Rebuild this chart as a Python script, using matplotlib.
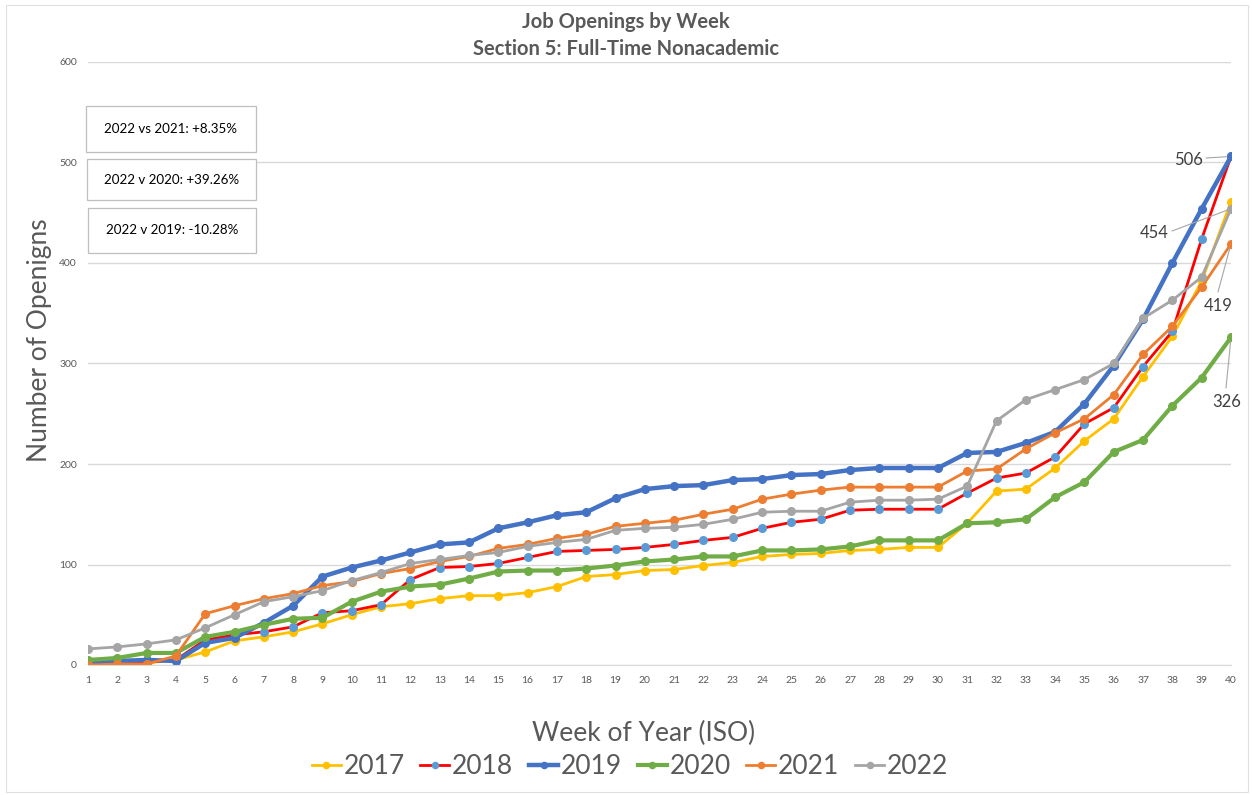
import numpy as np
import matplotlib
matplotlib.use("Agg")
import matplotlib.pyplot as plt
from matplotlib.patches import Rectangle

plt.rcParams["font.family"] = ["Lato", "DejaVu Sans"]

# ── Data ──────────────────────────────────────────────────────────────────────
weeks = np.arange(1, 41)

openings_2017 = [2, 2, 2, 5, 13, 24, 28, 33, 41, 50, 58, 61, 66, 69, 69, 72, 78, 88, 90, 94,
                 95, 99, 102, 108, 110, 111, 114, 115, 117, 117, 141, 173, 175, 196, 223, 245, 287, 327, 382, 461]
openings_2018 = [1, 2, 3, 5, 25, 30, 33, 38, 52, 54, 60, 85, 97, 98, 101, 107, 113, 114, 115, 117,
                 120, 124, 127, 136, 142, 145, 154, 155, 155, 155, 171, 186, 191, 207, 240, 256, 297, 332, 424, 506]
openings_2019 = [3, 4, 5, 4, 22, 27, 42, 59, 88, 97, 104, 112, 120, 122, 136, 142, 149, 152, 166, 175,
                 178, 179, 184, 185, 189, 190, 194, 196, 196, 196, 211, 212, 221, 232, 260, 298, 344, 400, 454, 506]
openings_2020 = [5, 7, 12, 12, 28, 33, 40, 46, 47, 63, 73, 78, 80, 86, 93, 94, 94, 96, 99, 103,
                 105, 108, 108, 114, 114, 115, 118, 124, 124, 124, 141, 142, 145, 167, 182, 212, 224, 258, 286, 326]
openings_2021 = [0, 1, 1, 9, 51, 59, 66, 71, 79, 83, 91, 96, 103, 108, 116, 120, 126, 130, 138, 141,
                 144, 150, 155, 165, 170, 174, 177, 177, 177, 177, 193, 195, 215, 231, 245, 269, 309, 337, 376, 419]
openings_2022 = [16, 18, 21, 25, 37, 50, 63, 68, 74, 84, 92, 101, 105, 109, 112, 118, 122, 125, 134, 136,
                 137, 140, 145, 152, 153, 153, 162, 164, 164, 165, 178, 243, 264, 274, 284, 300, 345, 363, 386, 454]

comparisons = ["2022 vs 2021: +8.35%", "2022 v 2020: +39.26%", "2022 v 2019: -10.28%"]

# label, values, line colour, marker colour, line width
series = [
    ("2017", openings_2017, "#FFC000", "#FFC000", 2.0),
    ("2018", openings_2018, "#FF0000", "#5B9BD5", 2.0),
    ("2019", openings_2019, "#4472C4", "#4472C4", 3.2),
    ("2020", openings_2020, "#70AD47", "#70AD47", 3.0),
    ("2021", openings_2021, "#ED7D31", "#ED7D31", 2.0),
    ("2022", openings_2022, "#A5A5A5", "#A5A5A5", 2.0),
]

TXT = "#595959"

# ── Plot ──────────────────────────────────────────────────────────────────────
fig = plt.figure(figsize=(12.52, 7.95), dpi=100)
ax = fig.add_axes([88 / 1252, 130 / 795, 1143 / 1252, 603 / 795])

for label, vals, lc, mc, lw in series:
    ax.plot(weeks, vals, color=lc, lw=lw, marker="o", markersize=5.5,
            markerfacecolor=mc, markeredgecolor=mc, label=label)

ax.set_xlim(1, 40)
ax.set_ylim(0, 600)
ax.set_yticks(range(0, 601, 100))
ax.set_xticks(weeks)
ax.grid(axis="y", color="#D9D9D9", lw=1)
ax.set_axisbelow(True)
for s in ["top", "right", "left"]:
    ax.spines[s].set_visible(False)
ax.spines["bottom"].set_color("#D9D9D9")
ax.tick_params(length=0, labelsize=7.5, labelcolor=TXT, pad=8)

# titles and axis labels
fig.text(0.5, 1 - 22 / 795, "Job Openings by Week", ha="center", va="center",
         fontsize=14.5, fontweight="bold", color=TXT)
fig.text(0.5, 1 - 49 / 795, "Section 5: Full-Time Nonacademic", ha="center", va="center",
         fontsize=14.5, fontweight="bold", color=TXT)
fig.text(40 / 1252, 1 - 340 / 795, "Number of Openigns", rotation=90, ha="center", va="center",
         fontsize=19, color=TXT)
fig.text(644 / 1252, 1 - 733 / 795, "Week of Year (ISO)", ha="center", va="center",
         fontsize=19, color=TXT)

# data labels on the last week
lead = "#A6A6A6"
labels = [("506", openings_2019[-1], 1203, 160, (1206, 158)),
          ("454", openings_2022[-1], 1169, 233, (1172, 231)),
          ("419", openings_2021[-1], 1218, 306, (1218, 292)),
          ("326", openings_2020[-1], 1227, 402, (1226, 388))]
for txt, val, tx, ty, start in labels:
    ha = "right" if tx < 1200 or txt == "506" else "center"
    fig.text(tx / 1252, 1 - ty / 795, txt, ha=ha, va="center", fontsize=12, color="#404040")
    ax.annotate("", xy=(40, val), xycoords="data",
                xytext=(start[0] / 1252, 1 - start[1] / 795), textcoords="figure fraction",
                arrowprops=dict(arrowstyle="-", color=lead, lw=0.8, shrinkA=0, shrinkB=3))

# comparison boxes
boxes = [(86, 106, 256, 152), (87, 159, 256, 200), (88, 208, 256, 253)]
for (x0, y0, x1, y1), txt in zip(boxes, comparisons):
    fig.patches.append(Rectangle((x0 / 1252, 1 - y1 / 795), (x1 - x0) / 1252, (y1 - y0) / 795,
                                 transform=fig.transFigure, facecolor="white",
                                 edgecolor="#BFBFBF", lw=0.9, zorder=5))
    fig.text((x0 + x1) / 2 / 1252, 1 - (y0 + y1) / 2 / 795, txt, ha="center", va="center",
             fontsize=9.6, color="black", zorder=6)

# legend
leg = fig.legend(loc="center", bbox_to_anchor=(630 / 1252, 1 - 767 / 795), ncol=6, frameon=False,
                 fontsize=19, handlelength=1.1, handletextpad=0.1, columnspacing=0.6,
                 markerscale=0.8, labelcolor=TXT)

# faint chart border
fig.patches.append(Rectangle((6 / 1252, 3 / 795), 1242 / 1252, 787 / 795, transform=fig.transFigure,
                             fill=False, edgecolor="#E0E0E0", lw=0.8))

plt.savefig("out.png", dpi=100)
